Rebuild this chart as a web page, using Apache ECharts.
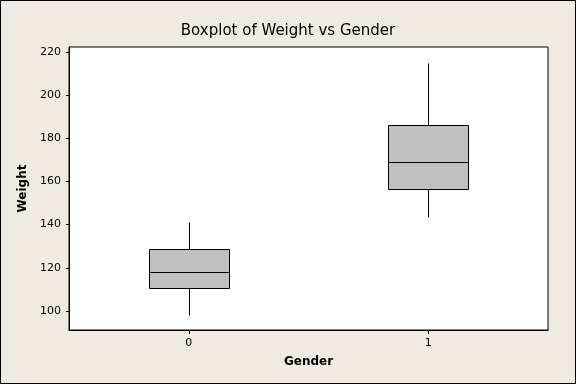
<!DOCTYPE html>
<html>
<head>
<meta charset="utf-8">
<script src="https://cdn.jsdelivr.net/npm/echarts@6/dist/echarts.min.js"></script>
<style>
html,body{margin:0;padding:0;background:#EFEBE2;}
#c{width:576px;height:384px;}
</style>
</head>
<body>
<div id="c"></div>
<script>
// Data
const categories = ['0', '1'];
const whiskerLow = [98.3, 143.3];
const q1 = [110.5, 156.6];
const median = [118.0, 168.8];
const q3 = [128.6, 186.0];
const whiskerHigh = [141.2, 214.6];
const yTicks = [100, 120, 140, 160, 180, 200, 220];

const boxData = categories.map((c, i) => [i, whiskerLow[i], q1[i], median[i], q3[i], whiskerHigh[i]]);

const chart = echarts.init(document.getElementById('c'));
const font = 'DejaVu Sans';

function crisp(v) { return Math.round(v) + 0.5; }

function renderBox(params, api) {
  const x = api.value(0);
  const pLow = api.coord([x, api.value(1)]);
  const pQ1 = api.coord([x, api.value(2)]);
  const pMed = api.coord([x, api.value(3)]);
  const pQ3 = api.coord([x, api.value(4)]);
  const pHigh = api.coord([x, api.value(5)]);
  const halfW = 40;
  const cx = crisp(pMed[0]);
  const yLow = crisp(pLow[1]), yQ1 = crisp(pQ1[1]), yMed = crisp(pMed[1]), yQ3 = crisp(pQ3[1]), yHigh = crisp(pHigh[1]);
  const lineStyle = {stroke: '#000', lineWidth: 1, fill: null};
  return {
    type: 'group',
    children: [
      {type: 'line', shape: {x1: cx, y1: yHigh, x2: cx, y2: yQ3}, style: lineStyle},
      {type: 'line', shape: {x1: cx, y1: yQ1, x2: cx, y2: yLow}, style: lineStyle},
      {type: 'rect', shape: {x: cx - halfW, y: yQ3, width: halfW * 2, height: yQ1 - yQ3},
        style: {fill: '#C0C0C0', stroke: '#000', lineWidth: 1}},
      {type: 'line', shape: {x1: cx - halfW, y1: yMed, x2: cx + halfW, y2: yMed}, style: lineStyle}
    ]
  };
}

chart.setOption({
  backgroundColor: '#EFEBE2',
  animation: false,
  title: {
    text: 'Boxplot of Weight vs Gender',
    left: 'center',
    top: 19,
    textStyle: {fontFamily: font, fontSize: 15, fontWeight: 'normal', color: '#000'}
  },
  graphic: [{
    type: 'rect', shape: {x: 0.5, y: 0.5, width: 575, height: 383},
    style: {fill: null, stroke: '#000', lineWidth: 1}, silent: true
  }],
  grid: {
    left: 69, right: 28, top: 47, bottom: 54,
    show: true, backgroundColor: '#FFFFFF', borderColor: '#000', borderWidth: 1
  },
  xAxis: {
    type: 'category',
    data: categories,
    boundaryGap: true,
    name: 'Gender',
    nameLocation: 'middle',
    nameGap: 26,
    nameTextStyle: {fontFamily: font, fontSize: 12, fontWeight: 'bold', color: '#000'},
    axisLine: {show: true, lineStyle: {color: '#000', width: 1}},
    axisTick: {show: true, alignWithLabel: true, length: 4, lineStyle: {color: '#000'}},
    axisLabel: {fontFamily: font, fontSize: 11, color: '#000', margin: 8},
    splitLine: {show: false}
  },
  yAxis: {
    type: 'value',
    min: 91.2,
    max: 222.2,
    name: 'Weight',
    nameLocation: 'middle',
    nameGap: 33,
    nameTextStyle: {fontFamily: font, fontSize: 12, fontWeight: 'bold', color: '#000'},
    axisLine: {show: true, lineStyle: {color: '#000', width: 1}},
    axisTick: {show: true, length: 3, customValues: yTicks, lineStyle: {color: '#000'}},
    axisLabel: {fontFamily: font, fontSize: 11, color: '#000', margin: 8, customValues: yTicks},
    splitLine: {show: false}
  },
  series: [{
    type: 'custom',
    renderItem: renderBox,
    encode: {x: 0, y: [1, 2, 3, 4, 5]},
    data: boxData
  }]
});
</script>
</body>
</html>
